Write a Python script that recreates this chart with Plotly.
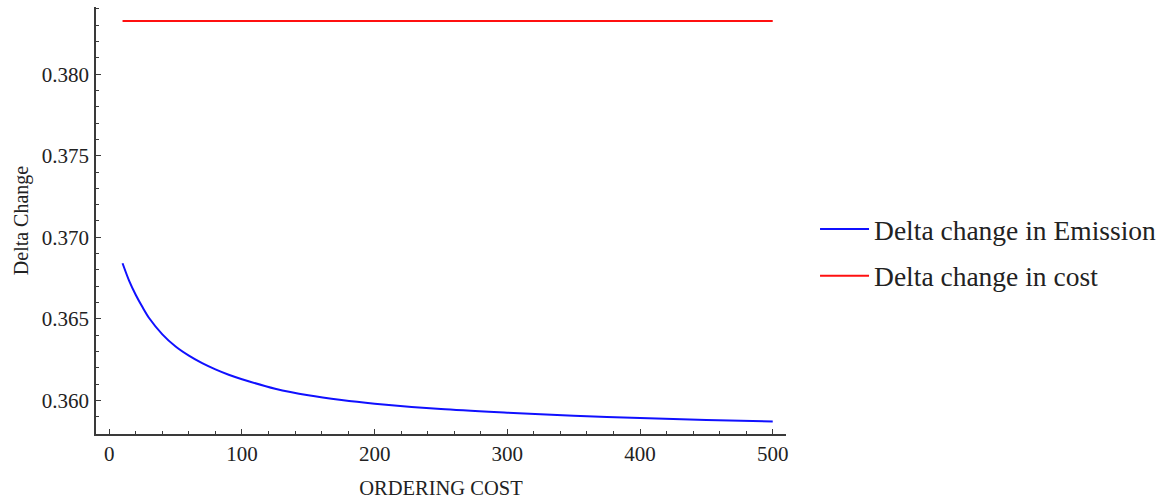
import plotly.graph_objects as go

# Ordering cost (x) and the delta change in emission (blue curve)
ordering_cost = [10, 15, 20, 25, 30, 40, 50, 60, 70, 80, 90, 100, 125,
                 150, 175, 200, 250, 300, 350, 400, 450, 500]
emission_delta = [0.36841, 0.36733, 0.36646, 0.36572, 0.36505, 0.36405,
                  0.36330, 0.36274, 0.36228, 0.36190, 0.36157, 0.36130,
                  0.36072, 0.36031, 0.36002, 0.35980, 0.35947, 0.35925,
                  0.35906, 0.35892, 0.35880, 0.35871]

# Delta change in cost stays flat across the ordering cost range
cost_x = [10, 500]
cost_delta = [0.38326, 0.38326]

x_ticks = [0, 100, 200, 300, 400, 500]
y_ticks = [0.360, 0.365, 0.370, 0.375, 0.380]

SERIF = "Liberation Serif, Times New Roman, serif"
AXIS_COLOR = "#3a3a3a"

fig = go.Figure()
fig.add_trace(go.Scatter(
    x=ordering_cost, y=emission_delta, mode="lines",
    line=dict(color="#1010ff", width=2, shape="spline", smoothing=0.8),
    name="Delta change in Emission", legendgroup="e",
))
fig.add_trace(go.Scatter(
    x=cost_x, y=cost_delta, mode="lines",
    line=dict(color="#ff1010", width=2),
    name="Delta change in cost", legendgroup="c",
))

fig.update_layout(
    width=1166, height=501,
    margin=dict(l=96, r=380, t=7, b=67, autoexpand=False),
    paper_bgcolor="white", plot_bgcolor="white",
    font=dict(family=SERIF, size=21, color="#222222"),
    showlegend=True,
    legend=dict(
        xref="container", yref="container",
        x=0.699, y=0.496, xanchor="left", yanchor="middle",
        font=dict(family=SERIF, size=27.5, color="#222222"),
        tracegroupgap=8, itemwidth=49, bgcolor="rgba(0,0,0,0)",
    ),
)

fig.update_xaxes(
    range=[-10, 510], tickvals=x_ticks, ticktext=[str(v) for v in x_ticks],
    showgrid=False, zeroline=False,
    showline=True, linecolor=AXIS_COLOR, linewidth=1.5,
    ticks="inside", ticklen=5, tickwidth=1, tickcolor=AXIS_COLOR,
    minor=dict(dtick=20, tick0=0, ticks="inside", ticklen=3.5,
               tickwidth=1, tickcolor=AXIS_COLOR, showgrid=False),
    tickfont=dict(family=SERIF, size=21),
    title=dict(text="ORDERING COST", font=dict(family=SERIF, size=20.5),
               standoff=16),
)
fig.update_yaxes(
    range=[0.35794, 0.38412], tickvals=y_ticks,
    ticktext=[f"{v:.3f}" for v in y_ticks],
    showgrid=False, zeroline=False,
    showline=True, linecolor=AXIS_COLOR, linewidth=1.5,
    ticks="inside", ticklen=5, tickwidth=1, tickcolor=AXIS_COLOR,
    minor=dict(dtick=0.001, tick0=0.36, ticks="inside", ticklen=3.5,
               tickwidth=1, tickcolor=AXIS_COLOR, showgrid=False),
    tickfont=dict(family=SERIF, size=21),
    ticklabelstandoff=1,
    title=dict(text="Delta Change", font=dict(family=SERIF, size=20),
               standoff=8),
)

fig.write_html("out.html")
